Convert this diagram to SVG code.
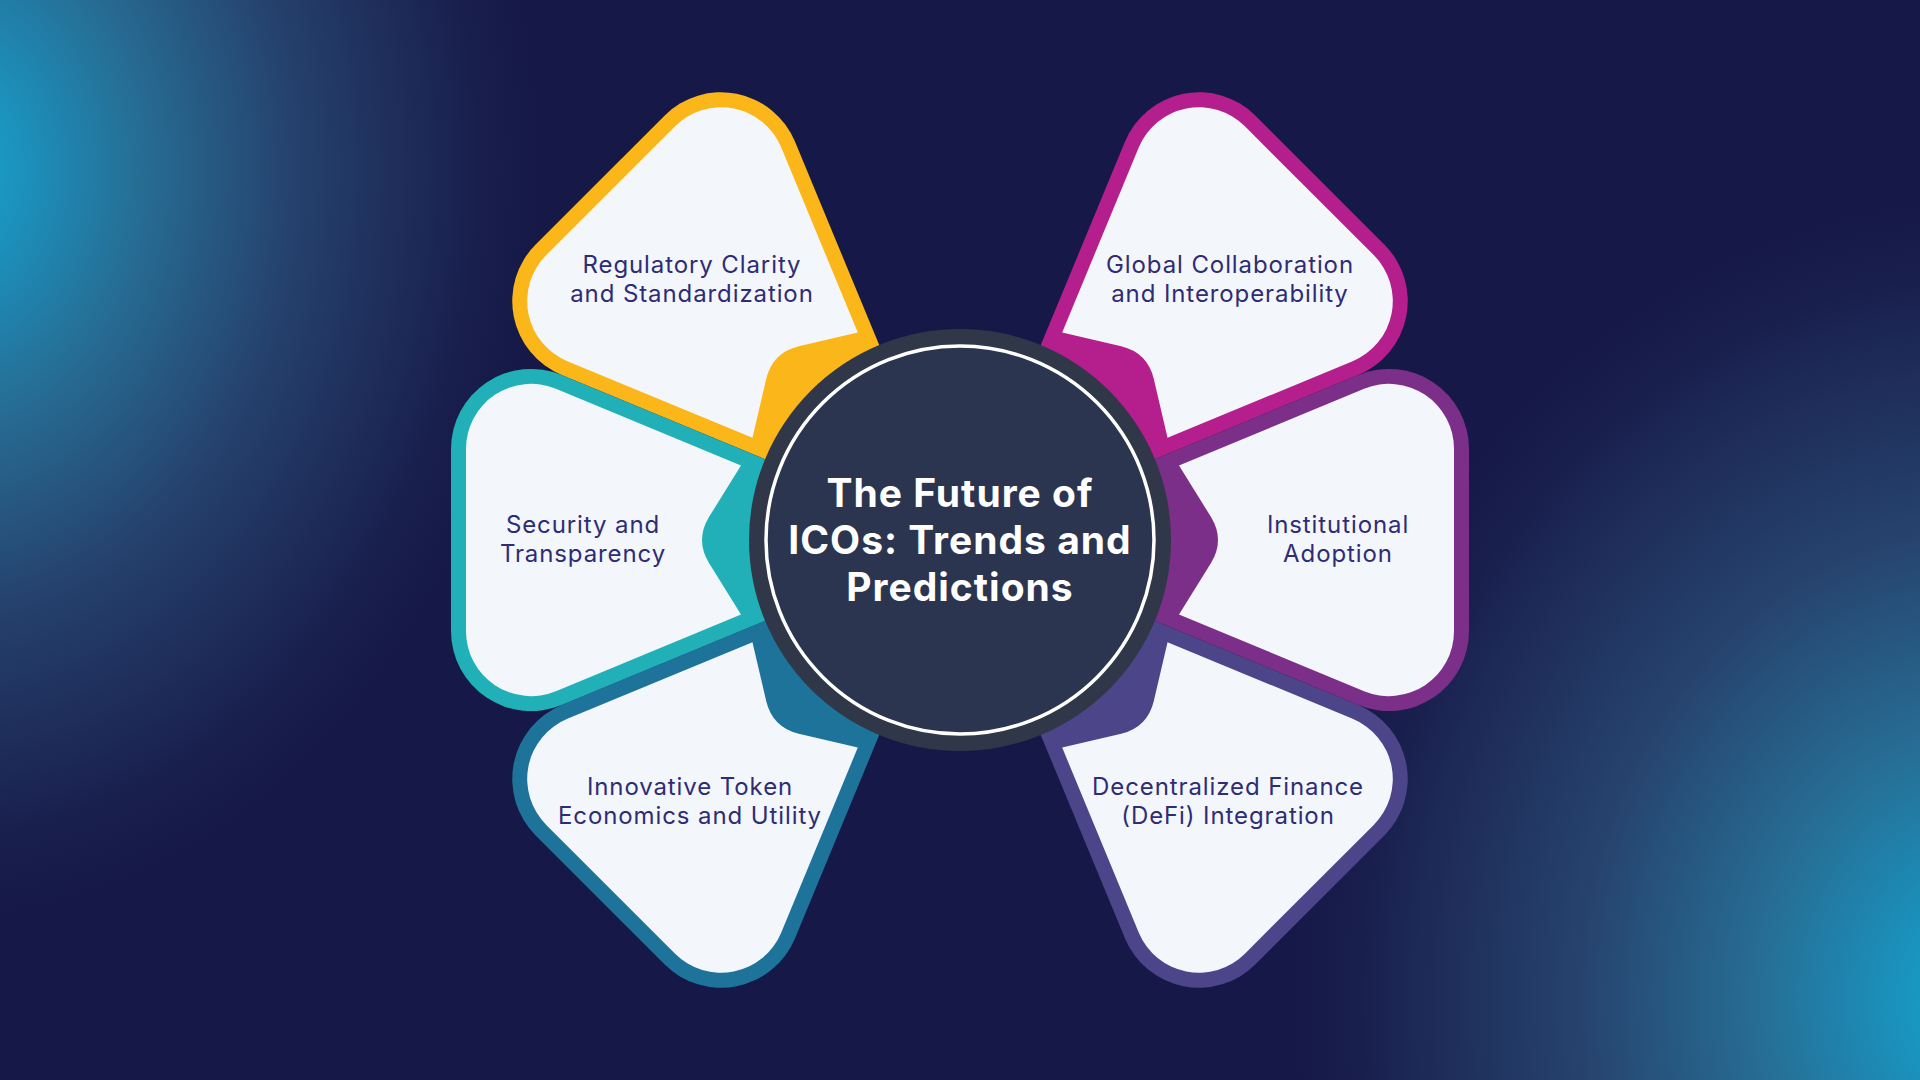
<svg xmlns="http://www.w3.org/2000/svg" xmlns:xlink="http://www.w3.org/1999/xlink" width="1920" height="1080" viewBox="0 0 1920 1080">
  <defs>
    <style>
      .lbl { font-family: Inter, "Noto Sans", "Liberation Sans", sans-serif; font-size: 24px; letter-spacing: 0.9px; fill: #2e2c75; text-anchor: middle; }
      .title { font-family: Inter, "Noto Sans", "Liberation Sans", sans-serif; font-size: 39px; font-weight: 700; letter-spacing: 1px; fill: #ffffff; text-anchor: middle; }
      .inner { fill: #f3f6fb; }
      .yellow { fill: #fbb619; }
      .teal { fill: #22b0b8; }
      .blue { fill: #1e739b; }
      .magenta { fill: #b51e8d; }
      .purple { fill: #7b2f88; }
      .indigo { fill: #4c4589; }
    </style>
    <radialGradient id="glowTL" gradientUnits="userSpaceOnUse" cx="-60" cy="170" r="620" gradientTransform="translate(-60 170) scale(1 1.25) translate(60 -170)">
      <stop offset="0" stop-color="#17a8d2"/>
      <stop offset="0.14" stop-color="#1c90bb"/>
      <stop offset="0.34" stop-color="#276a91"/>
      <stop offset="0.58" stop-color="#25406c"/>
      <stop offset="0.82" stop-color="#1b2452"/>
      <stop offset="1" stop-color="#161947" stop-opacity="0"/>
    </radialGradient>
    <radialGradient id="glowBR" gradientUnits="userSpaceOnUse" cx="1990" cy="1000" r="720" gradientTransform="translate(1990 1000) scale(1 1.15) translate(-1990 -1000)">
      <stop offset="0" stop-color="#12a9d2"/>
      <stop offset="0.13" stop-color="#1a92bd"/>
      <stop offset="0.33" stop-color="#276c93"/>
      <stop offset="0.57" stop-color="#26436e"/>
      <stop offset="0.82" stop-color="#1c2654"/>
      <stop offset="1" stop-color="#161947" stop-opacity="0"/>
    </radialGradient>
    <!-- petal shapes in local frame: apex at circle centre, pointing along +x -->
    <path id="petalOuter" d="M0,0 L398.4,-165 A80,80 0 0 1 509,-91.1 L509,91.1 A80,80 0 0 1 398.4,165 Z"/>
    <path id="petalInner" d="M219,-74.5 L404.1,-151.2 A65,65 0 0 1 494,-91.1 L494,91.1 A65,65 0 0 1 404.1,151.2 L219,74.5 L251,23 Q265,0 251,-23 Z"/>
  </defs>

  <g id="background">
    <rect x="0" y="0" width="1920" height="1080" fill="#161947"/>
    <rect x="0" y="0" width="1920" height="1080" fill="url(#glowTL)"/>
    <rect x="0" y="0" width="1920" height="1080" fill="url(#glowBR)"/>
  </g>

  <g id="connectors"/>

  <g id="node-regulatory">
    <use xlink:href="#petalOuter" class="yellow" transform="translate(960 540) rotate(-135)"/>
    <use xlink:href="#petalInner" class="inner" transform="translate(960 540) rotate(-135)"/>
    <text class="lbl" x="692" y="273">Regulatory Clarity</text>
    <text class="lbl" x="692" y="302">and Standardization</text>
  </g>

  <g id="node-innovative">
    <use xlink:href="#petalOuter" class="blue" transform="translate(960 540) rotate(135)"/>
    <use xlink:href="#petalInner" class="inner" transform="translate(960 540) rotate(135)"/>
    <text class="lbl" x="690" y="795">Innovative Token</text>
    <text class="lbl" x="690" y="824">Economics and Utility</text>
  </g>

  <g id="node-security">
    <use xlink:href="#petalOuter" class="teal" transform="translate(960 540) rotate(180)"/>
    <use xlink:href="#petalInner" class="inner" transform="translate(960 540) rotate(180)"/>
    <text class="lbl" x="583" y="533">Security and</text>
    <text class="lbl" x="583" y="562">Transparency</text>
  </g>

  <g id="node-global">
    <use xlink:href="#petalOuter" class="magenta" transform="translate(960 540) rotate(-45)"/>
    <use xlink:href="#petalInner" class="inner" transform="translate(960 540) rotate(-45)"/>
    <text class="lbl" x="1230" y="273">Global Collaboration</text>
    <text class="lbl" x="1230" y="302">and Interoperability</text>
  </g>

  <g id="node-defi">
    <use xlink:href="#petalOuter" class="indigo" transform="translate(960 540) rotate(45)"/>
    <use xlink:href="#petalInner" class="inner" transform="translate(960 540) rotate(45)"/>
    <text class="lbl" x="1228" y="795">Decentralized Finance</text>
    <text class="lbl" x="1228" y="824">(DeFi) Integration</text>
  </g>

  <g id="node-institutional">
    <use xlink:href="#petalOuter" class="purple" transform="translate(960 540)"/>
    <use xlink:href="#petalInner" class="inner" transform="translate(960 540)"/>
    <text class="lbl" x="1338" y="533">Institutional</text>
    <text class="lbl" x="1338" y="562">Adoption</text>
  </g>

  <g id="node-center">
    <circle cx="960" cy="540" r="211" fill="#2f3749"/>
    <circle cx="960" cy="540" r="194" fill="#2c3550" stroke="#ffffff" stroke-width="3.5"/>
    <text class="title" x="960" y="507">The Future of</text>
    <text class="title" x="960" y="554">ICOs: Trends and</text>
    <text class="title" x="960" y="601">Predictions</text>
  </g>
</svg>
